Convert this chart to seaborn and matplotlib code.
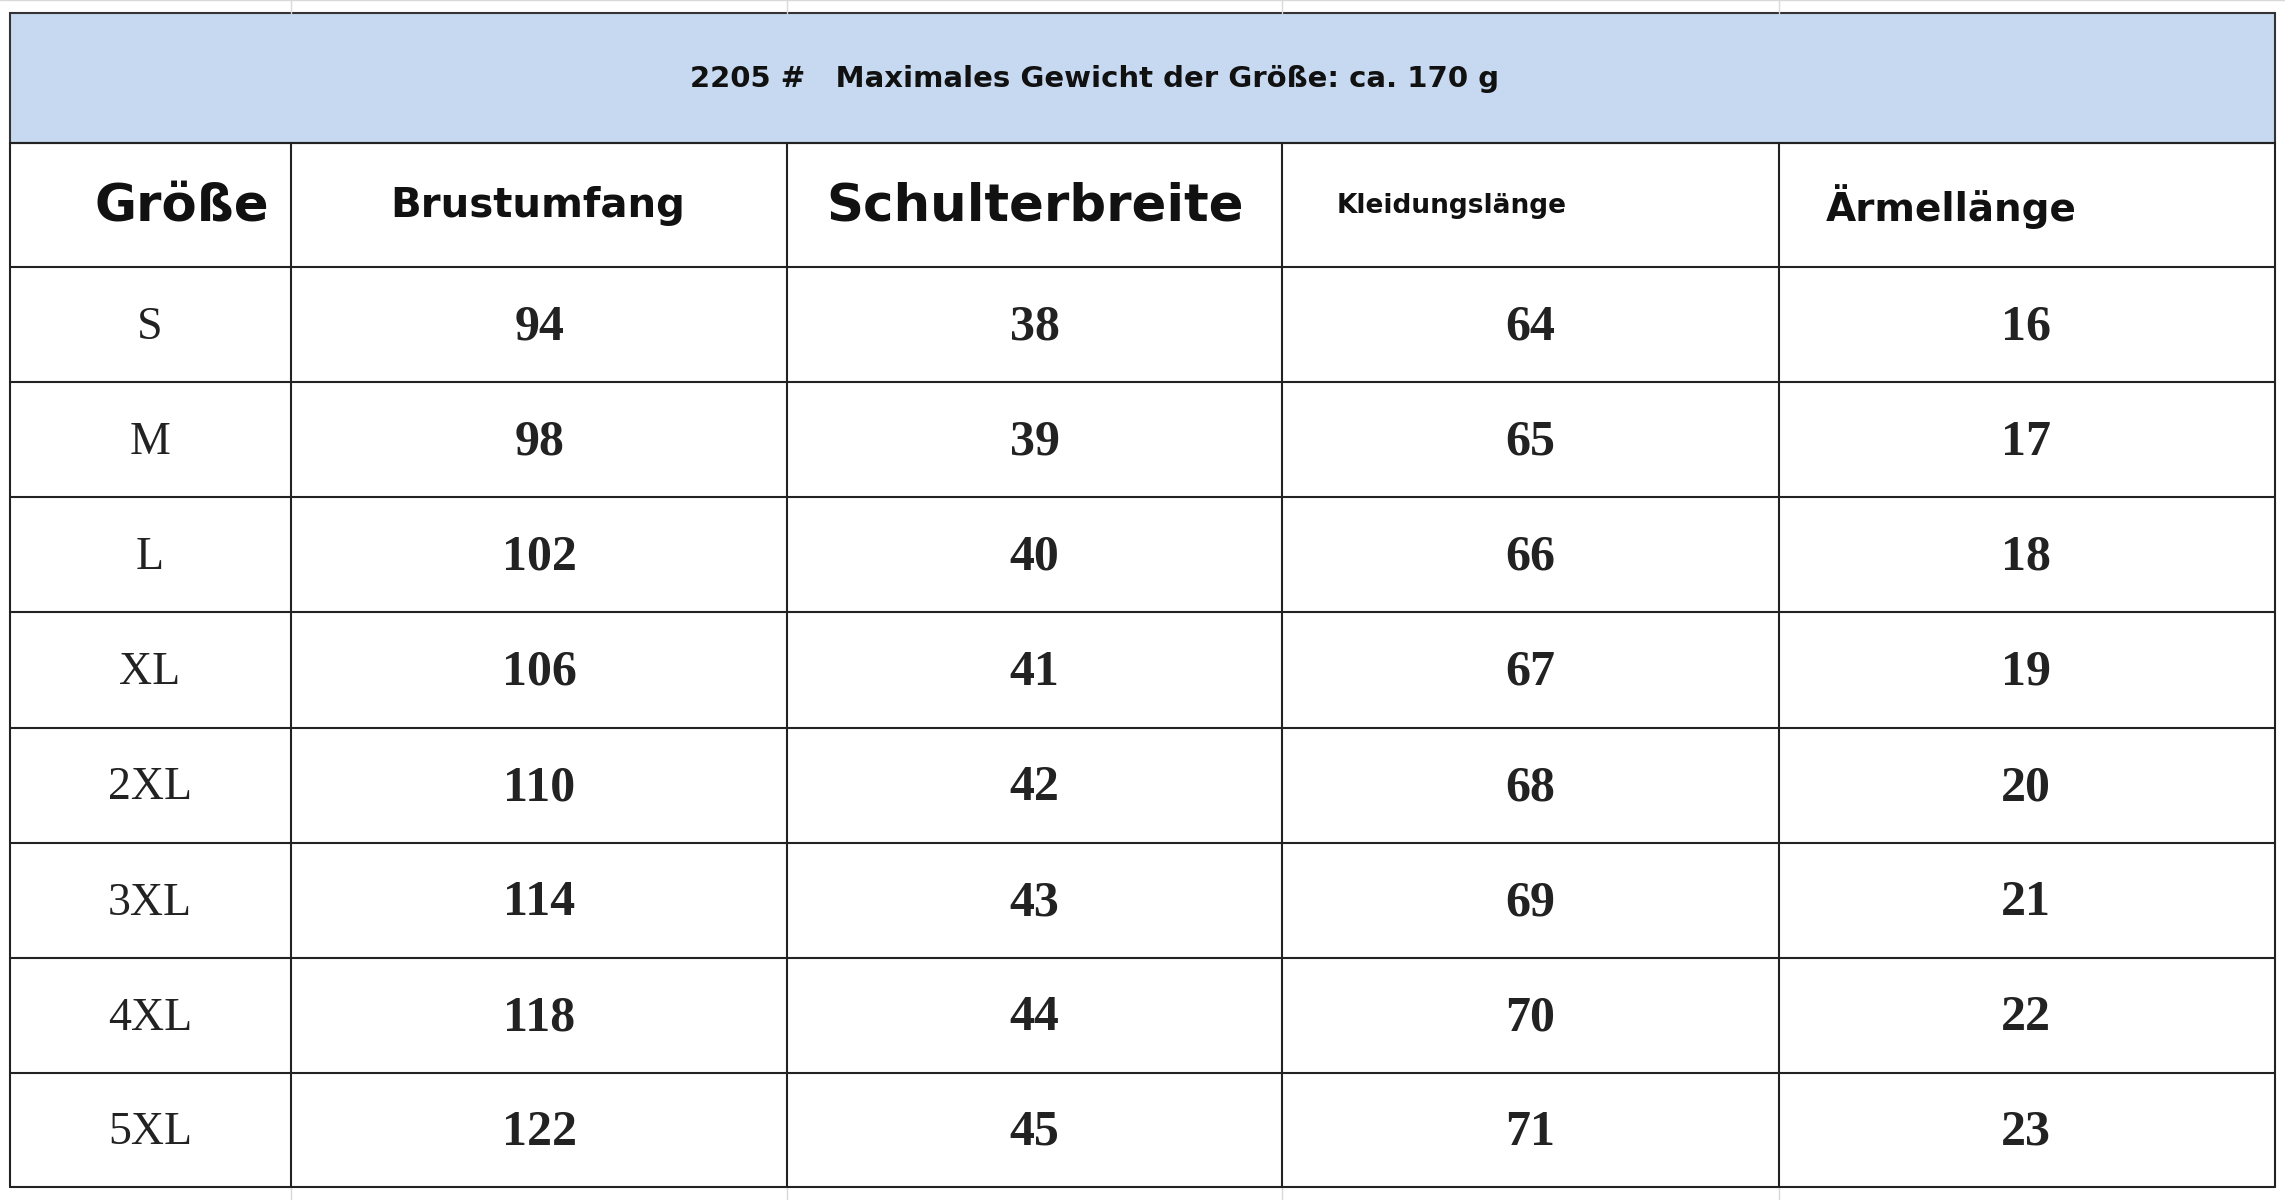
import matplotlib
matplotlib.use("Agg")
import matplotlib.pyplot as plt
import seaborn as sns

sns.set_theme(style="white")
plt.rcParams['font.family'] = ['DejaVu Sans']

title = "2205 #   Maximales Gewicht der Größe: ca. 170 g"
headers = ["Größe", "Brustumfang", "Schulterbreite", "Kleidungslänge", "Ärmellänge"]
sizes = ["S", "M", "L", "XL", "2XL", "3XL", "4XL", "5XL"]
brust = [94, 98, 102, 106, 110, 114, 118, 122]
schulter = [38, 39, 40, 41, 42, 43, 44, 45]
laenge = [64, 65, 66, 67, 68, 69, 70, 71]
aermel = [16, 17, 18, 19, 20, 21, 22, 23]

# layout (reference pixel grid 1568 x 823)
W, H = 1568, 823
col_edges = [7, 200, 540, 880, 1221, 1561]
row_edges = [98, 183, 262, 341, 420, 499, 578, 657, 736, 814]
band_top = 9

fig = plt.figure(figsize=(22.85, 12), dpi=100)
ax = fig.add_axes([0, 0, 1, 1])
ax.set_xlim(0, W)
ax.set_ylim(H, 0)
ax.axis("off")

for x in col_edges[1:-1]:
    ax.plot([x, x], [0, band_top], color="#d9d9d9", lw=1)
    ax.plot([x, x], [row_edges[-1], H], color="#d9d9d9", lw=1)
ax.plot([0, W], [0, 0], color="#d9d9d9", lw=1)

ax.add_patch(plt.Rectangle((col_edges[0], band_top), col_edges[-1] - col_edges[0],
                           row_edges[0] - band_top, facecolor="#c6d9f0",
                           edgecolor="#333333", lw=1.5))
ax.text(751, 54, title, ha="center", va="center", fontsize=21, fontweight="bold", color="#111111")

for y in row_edges:
    ax.plot([col_edges[0], col_edges[-1]], [y, y], color="#222222", lw=1.5)
for x in col_edges:
    ax.plot([x, x], [row_edges[0], row_edges[-1]], color="#222222", lw=1.5)

hy = (row_edges[0] + row_edges[1]) / 2 + 1
hspec = [(125, "center", 37), (369, "center", 29), (710, "center", 37),
         (917, "left", 19), (1253, "left", 28)]
for h, (x, ha, fs) in zip(headers, hspec):
    ax.text(x, hy, h, ha=ha, va="center", fontsize=fs, fontweight="bold", color="#111111")

centers = [103, 370, 710, 1050, 1390]
for i in range(len(sizes)):
    y = (row_edges[i + 1] + row_edges[i + 2]) / 2 + 2
    ax.text(centers[0], y, sizes[i], ha="center", va="center", fontsize=33,
            family="Liberation Serif", color="#222222")
    for j, col in enumerate([brust, schulter, laenge, aermel]):
        ax.text(centers[j + 1], y, str(col[i]), ha="center", va="center", fontsize=36,
                family="Liberation Serif", fontweight="bold", color="#222222")

fig.savefig("out.png", dpi=100, facecolor="white")
